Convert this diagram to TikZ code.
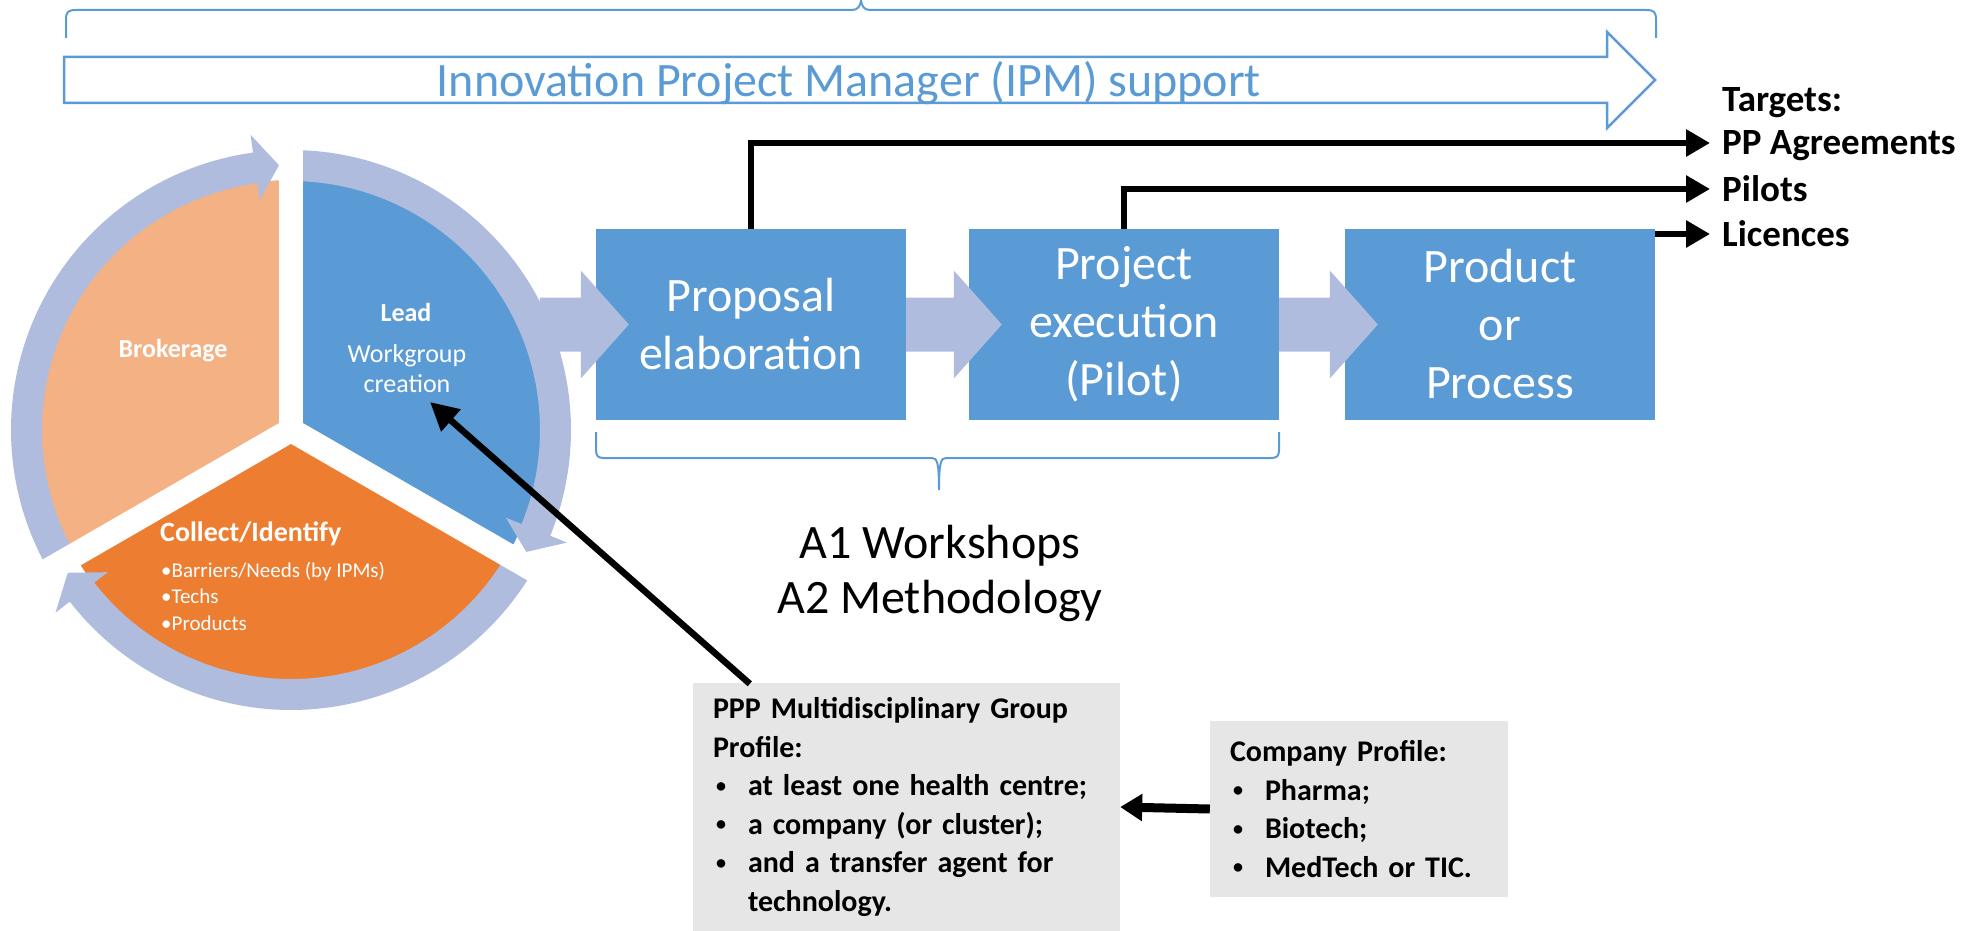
\documentclass[tikz,border=0pt]{standalone}
\usepackage{fontspec}
\setmainfont{Carlito}
\usetikzlibrary{arrows.meta,calc}
\definecolor{ringc}{RGB}{176,188,222}
\definecolor{blu}{RGB}{91,155,213}
\definecolor{lorange}{RGB}{244,177,131}
\definecolor{dorange}{RGB}{237,125,49}
\definecolor{grayc}{RGB}{231,230,230}
\newcommand{\pbul}{\hspace*{3pt}\makebox[32pt][l]{\raisebox{3.5pt}{\fontsize{20}{20}\selectfont\textbullet}}}
\begin{document}
\begin{tikzpicture}[x=1pt,y=-1pt,
  bbox/.style={fill=blu, text=white, minimum width=310pt, minimum height=191pt, inner sep=0pt, align=center, font=\fontsize{48}{58}\selectfont},
  gbox/.style={fill=grayc, inner xsep=20pt, inner ysep=0pt, align=left, font=\bfseries\fontsize{30}{38.5}\selectfont},
  blk/.style={line width=6.5pt, -{Triangle[length=24pt,width=26pt]}},
  tgt/.style={anchor=west, inner xsep=12pt, inner ysep=0pt, font=\bfseries\fontsize{37}{45}\selectfont, text height=24pt, text depth=0pt},
  wtxt/.style={text=white, inner sep=0pt},
  brace/.style={draw=blu, line width=2pt},
  gapline/.style={white, line width=24pt, line cap=butt}
]
\useasboundingbox (0,0) rectangle (1984,931);

% top brace
\draw[brace] (66,38) -- (66,20) .. controls (66,12) and (68,10) .. (76,10) -- (852,10) .. controls (858,10) and (860,6) .. (861,1) .. controls (862,6) and (864,10) .. (870,10) -- (1646,10) .. controls (1654,10) and (1656,12) .. (1656,20) -- (1656,38);

% hollow IPM arrow
\draw[draw=blu, line width=2.5pt, line join=miter] (64,57) -- (1607,57) -- (1607,32) -- (1655,80) -- (1607,128) -- (1607,103) -- (64,103) -- cycle;
\node[anchor=base, text=blu, inner sep=0pt, font=\fontsize{48}{58}\selectfont] (ipm) at (849,97) {Innovation Project Manager (IPM) support};

% cycle
\begin{scope}[shift={(291,430)}]
  \fill[lorange] (0,0) -- (-90:250) arc[start angle=-90, end angle=-210, radius=250] -- cycle;
  \fill[blu] (0,0) -- (30:250) arc[start angle=30, end angle=-90, radius=250] -- cycle;
  \fill[dorange] (0,0) -- (150:250) arc[start angle=150, end angle=30, radius=250] -- cycle;
  % ring arrows
  \fill[ringc] (-210:249) arc[start angle=-210, end angle=-97.8, radius=249] -- (-97.8:232) -- (-92.6:265) -- (-97.8:298) -- (-97.8:280) arc[start angle=-97.8, end angle=-210, radius=280] -- cycle;
  \fill[ringc] (-90:249) arc[start angle=-90, end angle=22.2, radius=249] -- (22.2:232) -- (27.4:265) -- (22.2:298) -- (22.2:280) arc[start angle=22.2, end angle=-90, radius=280] -- cycle;
  \fill[ringc] (30:249) arc[start angle=30, end angle=142.2, radius=249] -- (142.2:232) -- (147.4:265) -- (142.2:298) -- (142.2:280) arc[start angle=142.2, end angle=30, radius=280] -- cycle;
  % gaps
  \draw[gapline] (0,0) -- (-90:305);
  \draw[gapline] (0,0) -- (150:305);
  \draw[gapline] (0,0) -- (30:305);
\end{scope}

% circle texts (multi-line nodes: base = last line)
\node[wtxt, anchor=base, font=\bfseries\fontsize{26}{30}\selectfont] (brok) at (173,357) {Brokerage};
\node[wtxt, anchor=base, font=\bfseries\fontsize{26}{30}\selectfont] (lead) at (406,321) {Lead};
\node[wtxt, anchor=base, align=center, font=\fontsize{26}{30}\selectfont] (wg) at (407,392) {Workgroup\\creation};
\node[wtxt, anchor=base west, font=\bfseries\fontsize{28}{32}\selectfont] (coll) at (160,541) {Collect/Identify};
\node[wtxt, anchor=base west, align=left, font=\fontsize{21}{26.5}\selectfont] (cl) at (161,630) {\textbullet{}Barriers/Needs (by IPMs)\\\textbullet{}Techs\\\textbullet{}Products};

% process boxes
\node[bbox] (p1) at (751,324.5) {Proposal\\elaboration};
\node[bbox] (p2) at (1124,324.5) {Project\\execution\\(Pilot)};
\node[bbox] (p3) at (1500,324.5) {Product\\or\\Process};

% block arrows
\fill[ringc] ($(p1.west)+(-56,-27)$) -- ($(p1.west)+(-15,-27)$) -- ++(0,-27) -- ++(48,54) -- ++(-48,54) -- ++(0,-27) -- ($(p1.west)+(-56,27)$) -- cycle;
\fill[ringc] ($(p1.east)+(0,-27)$) -- ($(p2.west)+(-15,-27)$) -- ++(0,-27) -- ++(48,54) -- ++(-48,54) -- ++(0,-27) -- ($(p1.east)+(0,27)$) -- cycle;
\fill[ringc] ($(p2.east)+(0,-27)$) -- ($(p3.west)+(-15,-27)$) -- ++(0,-27) -- ++(48,54) -- ++(-48,54) -- ++(0,-27) -- ($(p2.east)+(0,27)$) -- cycle;

% bottom brace
\draw[brace] (596,432) -- (596,450) .. controls (596,456) and (598,458) .. (604,458) -- (932,458) .. controls (937,458) and (939,462) .. (939,490) .. controls (939,462) and (941,458) .. (946,458) -- (1271,458) .. controls (1277,458) and (1279,456) .. (1279,450) -- (1279,432);

\node[anchor=base, align=center, inner sep=0pt, font=\fontsize{48}{55}\selectfont] (ws) at (940,613) {A1 Workshops\\A2 Methodology};

% targets
\node[tgt] (tg) at (1710,100) {Targets:};
\node[tgt] (t1) at (1710,143) {PP Agreements};
\node[tgt] (t2) at (1710,189) {Pilots};
\node[tgt] (t3) at (1710,234) {Licences};

\draw[blk] (p1.north) |- (t1.west);
\draw[blk] (p2.north) |- (t2.west);
\draw[blk] (p3.north east |- t3.west) -- (t3.west);

% grey boxes
\node[gbox, minimum width=427pt, minimum height=248pt, text width=387pt] (ppp) at (906.5,807) {PPP Multidisciplinary Group\\Profile:\\\pbul at least one health centre;\\\pbul a company (or cluster);\\\pbul and a transfer agent for\\\hspace*{35pt}technology.};
\node[gbox, minimum width=298pt, minimum height=176pt, text width=258pt] (comp) at (1359,809) {Company Profile:\\\pbul Pharma;\\\pbul Biotech;\\\pbul MedTech or TIC.};

\coordinate (pppsrc) at ($(ppp.north west)+(57,1)$);
\coordinate (leadtip) at (430,402);
\draw[line width=6.5pt, -{Triangle[length=28pt,width=28pt]}] (pppsrc) -- (leadtip);
\draw[line width=9pt, -{Triangle[length=22pt,width=26pt]}] (comp.west) -- (ppp.east);
\end{tikzpicture}
\end{document}
